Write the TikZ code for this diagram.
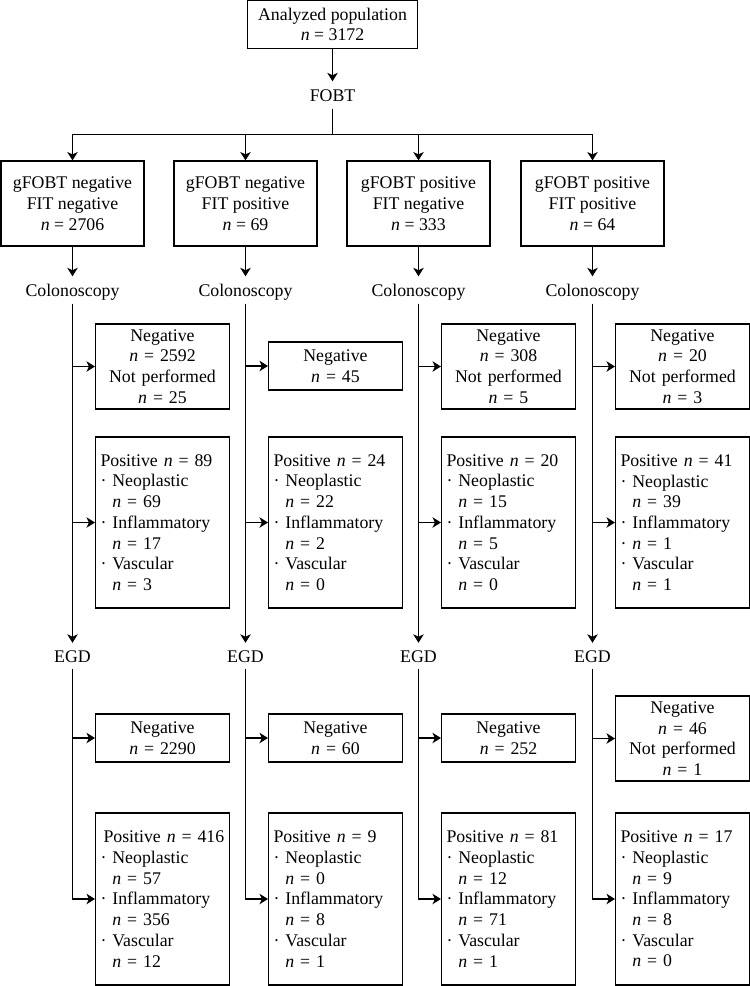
\documentclass[tikz,border=0pt]{standalone}
\usepackage{fontspec}
\setmainfont{Liberation Serif}
\usetikzlibrary{arrows.meta}
\newcommand\myind{\hphantom{·\ }}
\begin{document}
\begin{tikzpicture}[x=1pt,y=-1pt,
  every node/.style={font=\fontsize{17.8}{20.7}\selectfont},
  box/.style={draw, line width=1.1pt, inner sep=5pt, align=center},
  negbox/.style={box, minimum width=134pt, text width=124pt},
  posbox/.style={box, minimum width=134pt, text width=124pt, align=left, minimum height=171pt},
  topbox/.style={box, minimum width=143pt, minimum height=85pt},
  lab/.style={inner sep=0pt, minimum height=27pt, text height=12pt, text depth=0pt},
  arr/.style={line width=1.1pt, -{Stealth[length=8.5pt,width=10.5pt,inset=2.5pt]}},
  ln/.style={line width=1.1pt},
]
\useasboundingbox (0,0) rectangle (750,986);

\node[box, minimum width=170pt, minimum height=48pt] (top) at (332.5,24.5) {Analyzed population\\\textit{n} = 3172};
\node[lab] (fobt) at (332.5,95) {FOBT};
\coordinate (fork) at (332.5,134.5);

\node[topbox] (g1) at (72.5,203.5) {gFOBT negative\\FIT negative\\\textit{n} = 2706};
\node[topbox] (g2) at (245.5,203.5) {gFOBT negative\\FIT positive\\\textit{n} = 69};
\node[topbox] (g3) at (418.5,203.5) {gFOBT positive\\FIT negative\\\textit{n} = 333};
\node[topbox] (g4) at (592.5,203.5) {gFOBT positive\\FIT positive\\\textit{n} = 64};

\node[lab] (c1) at (72.5,290) {Colonoscopy};
\node[lab] (c2) at (245.5,290) {Colonoscopy};
\node[lab] (c3) at (418.5,290) {Colonoscopy};
\node[lab] (c4) at (592.5,290) {Colonoscopy};

\node[negbox, minimum height=85pt] (cn1) at (162.5,366.5) {Negative\\\textit{n} = 2592\\Not performed\\\textit{n} = 25};
\node[negbox, minimum height=48pt] (cn2) at (335.5,366) {Negative\\\textit{n} = 45};
\node[negbox, minimum height=85pt] (cn3) at (508.5,366.5) {Negative\\\textit{n} = 308\\Not performed\\\textit{n} = 5};
\node[negbox, minimum height=85pt] (cn4) at (682.5,366.5) {Negative\\\textit{n} = 20\\Not performed\\\textit{n} = 3};

\node[posbox] (cp1) at (162.5,522.5) {Positive \textit{n} = 89\\· Neoplastic\\\myind\textit{n} = 69\\· Inflammatory\\\myind\textit{n} = 17\\· Vascular\\\myind\textit{n} = 3};
\node[posbox] (cp2) at (335.5,522.5) {Positive \textit{n} = 24\\· Neoplastic\\\myind\textit{n} = 22\\· Inflammatory\\\myind\textit{n} = 2\\· Vascular\\\myind\textit{n} = 0};
\node[posbox] (cp3) at (508.5,522.5) {Positive \textit{n} = 20\\· Neoplastic\\\myind\textit{n} = 15\\· Inflammatory\\\myind\textit{n} = 5\\· Vascular\\\myind\textit{n} = 0};
\node[posbox] (cp4) at (682.5,522.5) {Positive \textit{n} = 41\\· Neoplastic\\\myind\textit{n} = 39\\· Inflammatory\\· \textit{n} = 1\\· Vascular\\\myind\textit{n} = 1};

\node[lab, minimum height=26pt] (e1) at (72.5,656) {EGD};
\node[lab, minimum height=26pt] (e2) at (245.5,656) {EGD};
\node[lab, minimum height=26pt] (e3) at (418.5,656) {EGD};
\node[lab, minimum height=26pt] (e4) at (592.5,656) {EGD};

\node[negbox, minimum height=48pt] (en1) at (162.5,738) {Negative\\\textit{n} = 2290};
\node[negbox, minimum height=48pt] (en2) at (335.5,738) {Negative\\\textit{n} = 60};
\node[negbox, minimum height=48pt] (en3) at (508.5,738) {Negative\\\textit{n} = 252};
\node[negbox, minimum height=85pt] (en4) at (682.5,738.5) {Negative\\\textit{n} = 46\\Not performed\\\textit{n} = 1};

\node[posbox, minimum height=172pt] (ep1) at (162.5,899) {\hspace*{3pt}Positive \textit{n} = 416\\· Neoplastic\\\myind\textit{n} = 57\\· Inflammatory\\\myind\textit{n} = 356\\· Vascular\\\myind\textit{n} = 12};
\node[posbox, minimum height=172pt] (ep2) at (335.5,899) {Positive \textit{n} = 9\\· Neoplastic\\\myind\textit{n} = 0\\· Inflammatory\\\myind\textit{n} = 8\\· Vascular\\\myind\textit{n} = 1};
\node[posbox, minimum height=172pt] (ep3) at (508.5,899) {Positive \textit{n} = 81\\· Neoplastic\\\myind\textit{n} = 12\\· Inflammatory\\\myind\textit{n} = 71\\· Vascular\\\myind\textit{n} = 1};
\node[posbox, minimum height=172pt] (ep4) at (682.5,899) {Positive \textit{n} = 17\\· Neoplastic\\\myind\textit{n} = 9\\· Inflammatory\\\myind\textit{n} = 8\\· Vascular\\\myind\textit{n} = 0};

\draw[arr] (top.south) -- (fobt.north);
\draw[ln] (fobt.south) -- (fork);
\foreach \i in {1,2,3,4} {
  \draw[arr] (fork) -| (g\i.north);
  \draw[arr] (g\i.south) -- (c\i.north);
  \draw[arr] (c\i.south) -- (e\i.north);
  \draw[arr] (cn\i.west -| c\i.south) -- (cn\i.west);
  \draw[arr] (cp\i.west -| c\i.south) -- (cp\i.west);
  \draw[arr] (e\i.south) |- (ep\i.west);
  \draw[arr] (en\i.west -| e\i.south) -- (en\i.west);
}
\end{tikzpicture}
\end{document}
